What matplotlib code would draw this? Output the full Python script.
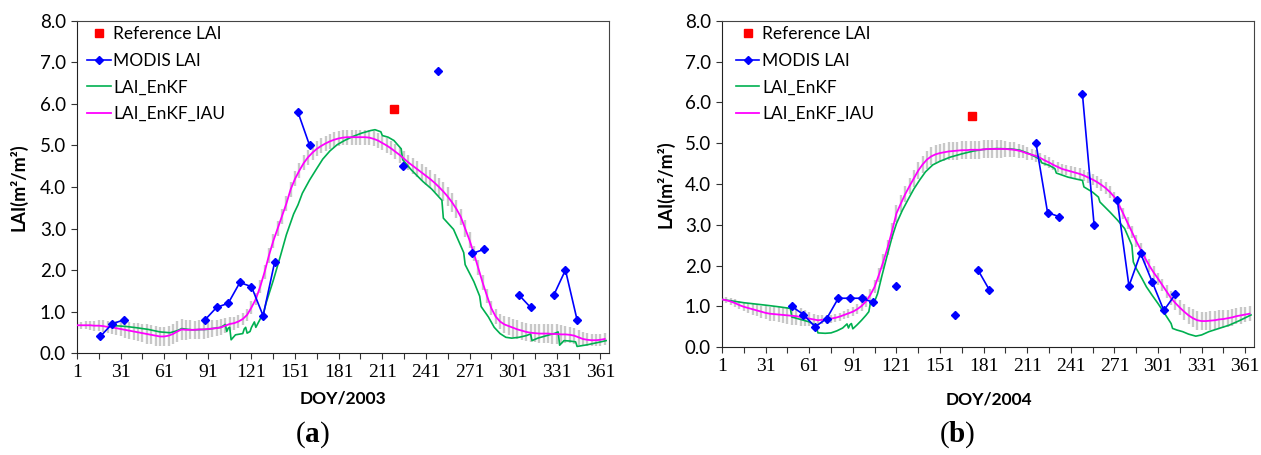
import numpy as np
import matplotlib
matplotlib.use("Agg")
import matplotlib.pyplot as plt

plt.rcParams['mathtext.fontset'] = 'custom'
plt.rcParams['mathtext.rm'] = 'Liberation Serif'
plt.rcParams['mathtext.bf'] = 'Liberation Serif:bold'

nan = np.nan

# simulated daily LAI, read off every 3 days
sim_days = np.arange(1, 365, 3)

# ---- 2003 ----
iau_2003 = [
    0.67, 0.67, 0.67, 0.67, 0.66, 0.66, 0.65, 0.63, 0.62, 0.60,
    0.58, 0.56, 0.54, 0.52, 0.50, 0.48, 0.46, 0.44, 0.42, 0.40,
    0.40, 0.42, 0.46, 0.52, 0.57, 0.56, 0.56, 0.56, 0.57, 0.57,
    0.58, 0.59, 0.60, 0.62, 0.66, 0.70, 0.72, 0.76, 0.82, 0.92,
    1.10, 1.30, 1.60, 1.95, 2.35, 2.70, 3.00, 3.30, 3.60, 3.95,
    4.20, 4.40, 4.58, 4.72, 4.83, 4.92, 4.99, 5.05, 5.10, 5.14,
    5.17, 5.19, 5.20, 5.20, 5.20, 5.20, 5.20, 5.19, 5.16, 5.12,
    5.06, 5.00, 4.93, 4.85, 4.77, 4.68, 4.59, 4.51, 4.43, 4.35,
    4.27, 4.19, 4.10, 4.00, 3.89, 3.77, 3.63, 3.47, 3.28, 3.00,
    2.72, 2.40, 2.05, 1.70, 1.38, 1.08, 0.88, 0.76, 0.69, 0.65,
    0.61, 0.57, 0.54, 0.51, 0.49, 0.48, 0.47, 0.47, 0.47, 0.46,
    0.46, 0.45, 0.45, 0.44, 0.42, 0.38, 0.34, 0.32, 0.31, 0.31,
    0.32, 0.34,
]
spread_2003 = [
    0.08, 0.09, 0.10, 0.11, 0.12, 0.13, 0.14, 0.15, 0.16, 0.17,
    0.18, 0.19, 0.20, 0.21, 0.22, 0.22, 0.23, 0.23, 0.24, 0.24,
    0.24, 0.24, 0.24, 0.25, 0.25, 0.24, 0.23, 0.22, 0.22, 0.22,
    0.21, 0.21, 0.20, 0.19, 0.18, 0.17, 0.16, 0.15, 0.15, 0.15,
    0.15, 0.15, 0.16, 0.17, 0.18, 0.18, 0.18, 0.18, 0.18, 0.18,
    0.18, 0.18, 0.18, 0.18, 0.18, 0.18, 0.18, 0.18, 0.18, 0.18,
    0.18, 0.18, 0.18, 0.18, 0.18, 0.18, 0.18, 0.18, 0.18, 0.18,
    0.17, 0.17, 0.17, 0.18, 0.18, 0.18, 0.19, 0.19, 0.20, 0.20,
    0.21, 0.21, 0.22, 0.22, 0.22, 0.22, 0.22, 0.21, 0.20, 0.20,
    0.19, 0.18, 0.18, 0.17, 0.17, 0.17, 0.18, 0.19, 0.20, 0.21,
    0.22, 0.22, 0.22, 0.22, 0.22, 0.22, 0.22, 0.22, 0.23, 0.23,
    0.23, 0.22, 0.21, 0.20, 0.19, 0.18, 0.17, 0.16, 0.15, 0.15,
    0.15, 0.15,
]
enkf_2003_days = [27, 35, 42, 50, 58, 65, 70, 73, 80, 90, 100, 103, 104, 105, 106,
                  107, 110, 115, 116, 117, 118, 120, 121, 123, 124, 127, 129, 131,
                  136, 141, 145, 150, 153, 156, 161, 166, 170, 175, 180, 185, 191,
                  197, 203, 206, 210, 211, 215, 219, 224, 225, 231, 239, 245, 252,
                  253, 260, 267, 268, 274, 278, 279, 284, 288, 292, 296, 300, 305,
                  310, 313, 314, 318, 324, 330, 332, 333, 336, 340, 344, 345, 352,
                  360, 365]
enkf_2003 = [0.66, 0.64, 0.61, 0.57, 0.51, 0.49, 0.54, 0.59, 0.56, 0.57, 0.62, 0.69, 0.52, 0.60, 0.62,
             0.32, 0.44, 0.47, 0.58, 0.62, 0.48, 0.52, 0.62, 0.75, 0.62, 0.82, 0.92, 1.20,
             1.75, 2.35, 2.85, 3.35, 3.57, 3.85, 4.17, 4.45, 4.67, 4.87, 5.02, 5.12, 5.22,
             5.30, 5.36, 5.38, 5.33, 5.24, 5.20, 5.12, 4.92, 4.66, 4.41, 4.13, 3.95, 3.68,
             3.25, 2.98, 2.42, 2.13, 1.72, 1.37, 1.12, 0.87, 0.62, 0.47, 0.38, 0.36, 0.38,
             0.42, 0.46, 0.30, 0.36, 0.42, 0.48, 0.51, 0.19, 0.30, 0.29, 0.27, 0.16, 0.20,
             0.26, 0.30]
modis_2003_days = [17, 25, 33, nan, 89, 97, 105, 113, 121, 129, 137, nan, 153, 161, nan,
                   225, nan, 249, nan, 273, 281, nan, 305, 313, nan, 329, 337, 345]
modis_2003 = [0.4, 0.7, 0.8, nan, 0.8, 1.1, 1.2, 1.7, 1.6, 0.9, 2.2, nan, 5.8, 5.0, nan,
              4.5, nan, 6.8, nan, 2.4, 2.5, nan, 1.4, 1.1, nan, 1.4, 2.0, 0.8]
ref_2003_days = [219]
ref_2003 = [5.87]

# ---- 2004 ----
iau_2004 = [
    1.17, 1.15, 1.12, 1.08, 1.03, 0.99, 0.96, 0.93, 0.90, 0.87,
    0.84, 0.82, 0.81, 0.80, 0.79, 0.78, 0.77, 0.76, 0.74, 0.72,
    0.70, 0.68, 0.66, 0.67, 0.68, 0.70, 0.72, 0.75, 0.79, 0.83,
    0.87, 0.93, 1.01, 1.12, 1.28, 1.48, 1.78, 2.10, 2.45, 2.85,
    3.28, 3.52, 3.75, 3.95, 4.14, 4.33, 4.48, 4.60, 4.68, 4.73,
    4.76, 4.78, 4.80, 4.81, 4.82, 4.83, 4.83, 4.84, 4.84, 4.84,
    4.85, 4.86, 4.86, 4.86, 4.86, 4.86, 4.85, 4.84, 4.82, 4.79,
    4.75, 4.72, 4.69, 4.64, 4.58, 4.53, 4.47, 4.42, 4.37, 4.34,
    4.31, 4.28, 4.25, 4.21, 4.16, 4.11, 4.05, 3.98, 3.90, 3.80,
    3.68, 3.50, 3.28, 3.05, 2.83, 2.60, 2.40, 2.19, 2.00, 1.83,
    1.68, 1.52, 1.36, 1.20, 1.08, 0.97, 0.87, 0.78, 0.71, 0.66,
    0.64, 0.64, 0.65, 0.66, 0.68, 0.69, 0.71, 0.73, 0.76, 0.78,
    0.80, 0.82,
]
spread_2004 = [
    0.06, 0.07, 0.08, 0.09, 0.10, 0.11, 0.12, 0.13, 0.14, 0.15,
    0.16, 0.17, 0.18, 0.19, 0.20, 0.21, 0.22, 0.22, 0.22, 0.20,
    0.17, 0.14, 0.12, 0.11, 0.10, 0.10, 0.10, 0.10, 0.10, 0.11,
    0.11, 0.12, 0.13, 0.14, 0.15, 0.16, 0.17, 0.18, 0.19, 0.20,
    0.20, 0.20, 0.20, 0.20, 0.21, 0.21, 0.22, 0.22, 0.22, 0.22,
    0.22, 0.22, 0.22, 0.22, 0.22, 0.22, 0.22, 0.22, 0.22, 0.22,
    0.22, 0.22, 0.22, 0.21, 0.21, 0.20, 0.19, 0.18, 0.17, 0.16,
    0.15, 0.14, 0.14, 0.13, 0.13, 0.13, 0.13, 0.13, 0.13, 0.13,
    0.13, 0.13, 0.14, 0.14, 0.14, 0.14, 0.14, 0.14, 0.14, 0.14,
    0.13, 0.13, 0.14, 0.15, 0.15, 0.15, 0.15, 0.15, 0.15, 0.15,
    0.15, 0.15, 0.16, 0.17, 0.18, 0.19, 0.20, 0.21, 0.22, 0.23,
    0.23, 0.23, 0.23, 0.23, 0.22, 0.22, 0.21, 0.21, 0.20, 0.20,
    0.19, 0.19,
]
enkf_2004_days = [1, 16, 31, 40, 48, 49, 53, 57, 61, 64, 65, 66, 67, 72, 76, 80, 84, 87,
                  88, 89, 90, 91, 94, 97, 100, 102, 103, 105, 108, 111, 115, 118, 121,
                  125, 129, 133, 137, 141, 146, 151, 158, 166, 174, 181, 190, 200, 206,
                  212, 217, 220, 221, 226, 230, 231, 239, 245, 249, 250, 256, 260, 261,
                  268, 273, 278, 283, 284, 286, 290, 293, 297, 301, 306, 310, 311, 314,
                  318, 322, 327, 331, 336, 343, 350, 357, 365]
enkf_2004 = [1.17, 1.09, 1.03, 0.99, 0.95, 0.74, 0.70, 0.66, 0.62, 0.56, 0.50, 0.48, 0.35, 0.34, 0.35, 0.40, 0.47, 0.57,
             0.47, 0.55, 0.58, 0.45, 0.55, 0.66, 0.78, 0.87, 1.07, 1.03, 1.31, 1.75, 2.30, 2.70, 3.03,
             3.35, 3.62, 3.88, 4.10, 4.30, 4.47, 4.56, 4.66, 4.74, 4.81, 4.85, 4.87, 4.86, 4.83,
             4.75, 4.66, 4.60, 4.52, 4.46, 4.38, 4.27, 4.17, 4.12, 4.09, 3.93, 3.80, 3.68, 3.56,
             3.31, 3.12, 2.91, 2.50, 2.09, 1.93, 1.68, 1.48, 1.27, 1.07, 0.80, 0.58, 0.46, 0.42,
             0.38, 0.32, 0.27, 0.30, 0.38, 0.46, 0.54, 0.65, 0.79]
modis_2004_days = [49, 57, 65, 73, 81, 89, 97, 105, nan, 121, nan, 161, nan, 177, 185, nan,
                   217, 225, 233, nan, 249, 257, nan, 273, 281, 289, 297, 305, 313]
modis_2004 = [1.0, 0.8, 0.5, 0.7, 1.2, 1.2, 1.2, 1.1, nan, 1.5, nan, 0.8, nan, 1.9, 1.4, nan,
              5.0, 3.3, 3.2, nan, 6.2, 3.0, nan, 3.6, 1.5, 2.3, 1.6, 0.9, 1.3]
ref_2004_days = [173]
ref_2004 = [5.66]

sans = 'Lato'
serif = 'Liberation Serif'

fig = plt.figure(figsize=(12.61, 4.55), dpi=100)
ax_a = fig.add_axes([0.0611, 0.224, 0.4219, 0.730])
ax_b = fig.add_axes([0.5726, 0.237, 0.4218, 0.717])


def draw(ax, iau, spread, enkf_days, enkf, modis_days, modis, ref_days, ref, year, leg_x):
    iau = np.array(iau)
    spread = np.array(spread)
    ax.vlines(sim_days, iau - spread, iau + spread, color='#c8c8c8', lw=1.7, zorder=1)
    ax.plot(ref_days, ref, ls='none', marker='s', ms=5.5, color='#ff0000',
            label='Reference LAI', zorder=6)
    ax.plot(modis_days, modis, color='#0000ff', lw=1.2, marker='D', ms=4.2,
            label='MODIS LAI', zorder=5)
    ax.plot(enkf_days, enkf, color='#00b050', lw=1.2, label='LAI_EnKF', zorder=3)
    ax.plot(sim_days, iau, color='#ff00ff', lw=1.3, label='LAI_EnKF_IAU', zorder=4)

    ax.set_xlim(1, 367)
    ax.set_ylim(0, 8)
    ax.set_yticks(np.arange(0, 8.1, 1.0))
    ax.set_yticklabels(['%.1f' % v for v in np.arange(0, 8.1, 1.0)],
                       fontsize=13.5, fontfamily=sans)
    ax.set_xticks(np.arange(1, 362, 30))
    ax.set_xticklabels([str(d) for d in np.arange(1, 362, 30)],
                       fontsize=14, fontfamily=serif)
    ax.set_xticks(np.arange(16, 367, 30), minor=True)
    ax.tick_params(axis='both', which='both', direction='out', length=4, width=0.8,
                   color='#333333')
    ax.tick_params(axis='y', pad=4)
    ax.tick_params(axis='x', pad=4)
    for side in ['left', 'bottom']:
        ax.spines[side].set_color('#222222')
    for side in ['top', 'right']:
        ax.spines[side].set_color('#444444')

    ax.set_ylabel('LAI(m²/m²)', fontsize=13, fontweight='bold', fontfamily=sans)
    ax.set_xlabel('DOY/' + year, fontsize=12.5, fontweight='bold', fontfamily=sans)

    leg = ax.legend(loc='upper left', bbox_to_anchor=(leg_x, 0.985), frameon=False,
                    borderpad=0, borderaxespad=0, handlelength=1.35,
                    handletextpad=0.15, labelspacing=0.62,
                    prop={'family': sans, 'size': 12.5})
    return leg


draw(ax_a, iau_2003, spread_2003, enkf_2003_days, enkf_2003, modis_2003_days, modis_2003,
     ref_2003_days, ref_2003, '2003', 0.019)
draw(ax_b, iau_2004, spread_2004, enkf_2004_days, enkf_2004, modis_2004_days, modis_2004,
     ref_2004_days, ref_2004, '2004', 0.026)

ax_a.yaxis.set_label_coords(-0.094, 0.5)
ax_b.yaxis.set_label_coords(-0.09, 0.5)
ax_a.xaxis.set_label_coords(0.5, -0.114)
ax_b.xaxis.set_label_coords(0.502, -0.135)

fig.text(0.248, 0.045, r'($\mathbf{a}$)', ha='center', va='center', fontsize=21,
         fontfamily=serif)
fig.text(0.759, 0.045, r'($\mathbf{b}$)', ha='center', va='center', fontsize=21,
         fontfamily=serif)

fig.savefig('out.png', dpi=100, facecolor='white')
